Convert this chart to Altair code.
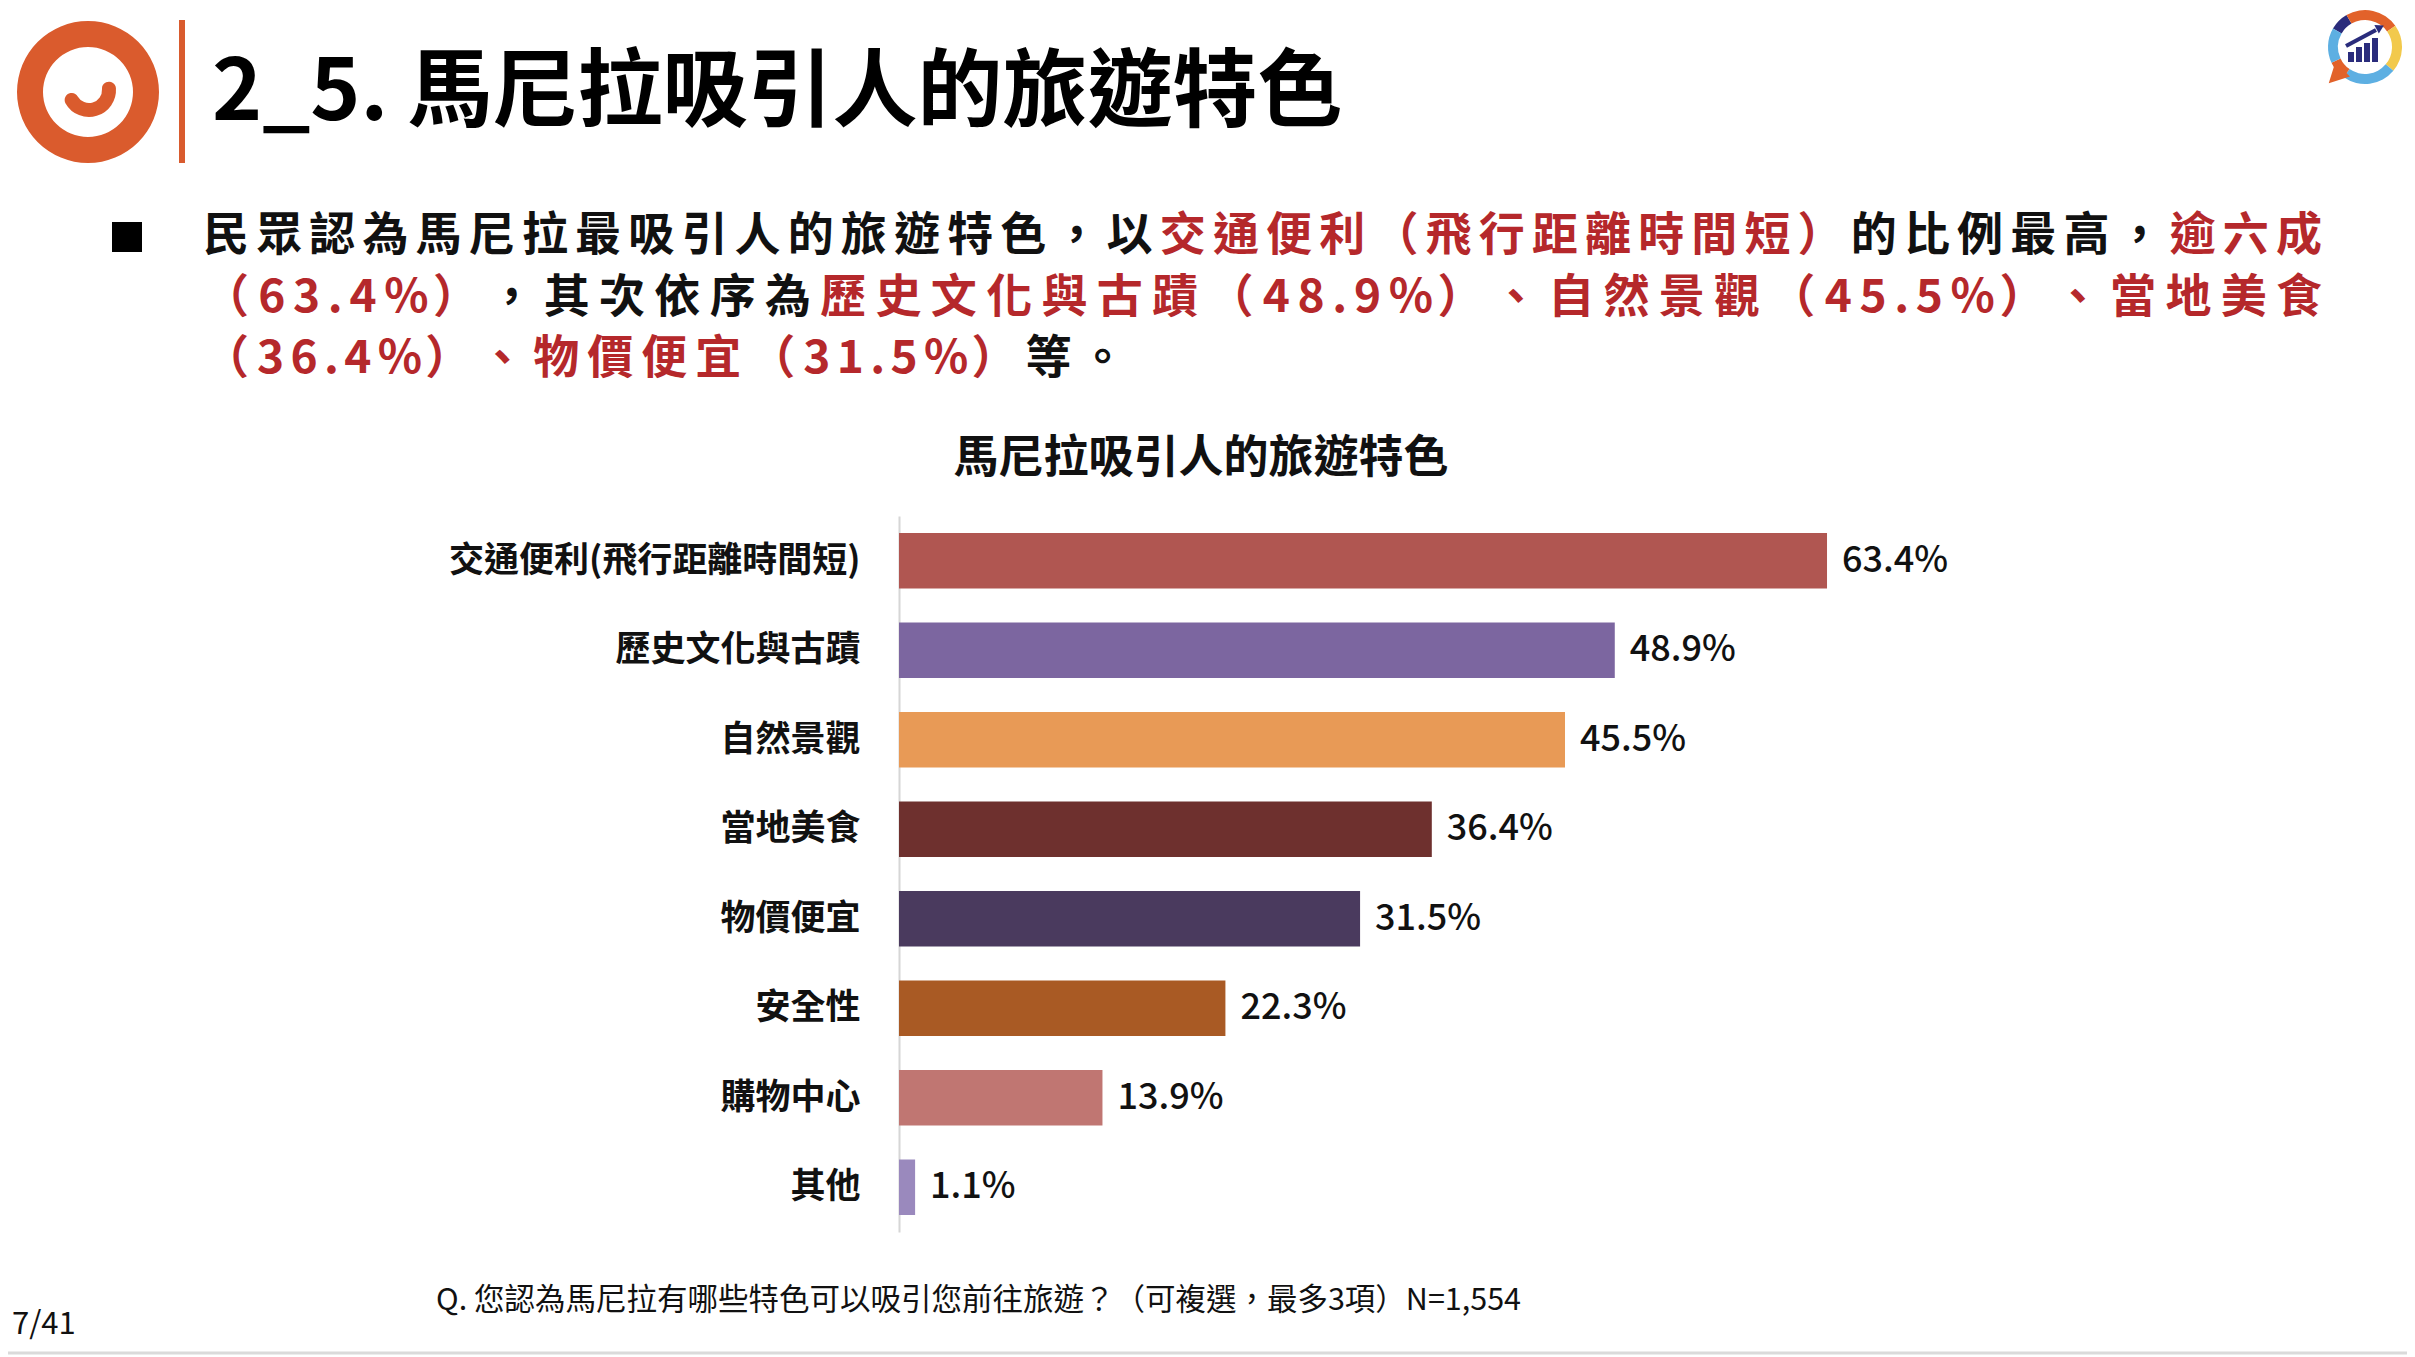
import altair as alt
import pandas as pd

# ---------------- data ----------------
categories = ["交通便利(飛行距離時間短)", "歷史文化與古蹟", "自然景觀", "當地美食",
              "物價便宜", "安全性", "購物中心", "其他"]
values = [63.4, 48.9, 45.5, 36.4, 31.5, 22.3, 13.9, 1.1]
bar_colors = ["#B05651", "#7C66A0", "#E89A56", "#6E302E",
              "#4A3A5E", "#A95A24", "#C07672", "#9A89BD"]

header_title = "2_5. 馬尼拉吸引人的旅遊特色"
chart_title = "馬尼拉吸引人的旅遊特色"
footnote = "Q. 您認為馬尼拉有哪些特色可以吸引您前往旅遊？（可複選，最多3項）N=1,554"
page_no = "7/41"

K = "#111111"
R = "#B5282B"
bullet_lines = [
    [("民眾認為馬尼拉最吸引人的旅遊特色，以", K), ("交通便利（飛行距離時間短）", R),
     ("的比例最高，", K), ("逾六成", R)],
    [("（63.4%）", R), ("，其次依序為", K), ("歷史文化與古蹟（48.9%）", R), ("、", R),
     ("自然景觀（45.5%）", R), ("、", R), ("當地美食", R)],
    [("（36.4%）、物價便宜（31.5%）", R), ("等。", K)],
]

FONT = "Noto Sans CJK TC"

# ---------------- layout (page pixel coordinates) ----------------
OX, OY = 899, 516          # plot-area origin on the page
PLOT_W = 1171
PLOT_H = 716
XMAX = 80
TOTAL_W = 2399
TOTAL_H = 1349


def px(x):
    return x - OX


def py(y):
    return y - OY


# ---------------- bar chart ----------------
df = pd.DataFrame({"category": categories, "value": values})

base = alt.Chart(df).transform_calculate(
    label="format(datum.value, '.1f') + '%'"
)

bars = base.mark_bar().encode(
    x=alt.X("value:Q", scale=alt.Scale(domain=[0, XMAX]), axis=None),
    y=alt.Y("category:N", sort=categories,
            scale=alt.Scale(paddingInner=0.38, paddingOuter=0.19),
            axis=alt.Axis(title=None, ticks=False, labelFont=FONT, labelFontSize=35,
                          labelFontWeight="bold", labelColor="#111111", labelPadding=39,
                          labelLimit=700, domainColor="#D6D6D6", domainWidth=2,
                          grid=False)),
    color=alt.Color("category:N", scale=alt.Scale(domain=categories, range=bar_colors),
                    legend=None),
)

value_labels = base.mark_text(align="left", baseline="middle", dx=15, font=FONT,
                              fontSize=36, fontWeight=500, color="#111111").encode(
    x=alt.X("value:Q", scale=alt.Scale(domain=[0, XMAX]), axis=None),
    y=alt.Y("category:N", sort=categories),
    text="label:N",
)

bar_layer = alt.layer(bars, value_labels)

# ---------------- bullet text (justified, char by char) ----------------
FS = 46
LINE_X0 = 203
LINE_X1 = 2322
LINE_Y = [236, 298, 359]


def cw(c):
    if c in "0123456789":
        return 0.553 * FS
    if c == ".":
        return 0.27 * FS
    if c == "%":
        return 0.86 * FS
    return 1.0 * FS


rows = []
for li, segs in enumerate(bullet_lines):
    chars = [(c, col) for s, col in segs for c in s]
    natural = sum(cw(c) for c, _ in chars)
    if li < len(bullet_lines) - 1:
        gap = (LINE_X1 - LINE_X0 - natural) / (len(chars) - 1)
    else:
        gap = 8.0
    x = LINE_X0
    for c, col in chars:
        rows.append({"ch": c, "px": px(x), "py": py(LINE_Y[li]), "col": col})
        x += cw(c) + gap
chars_df = pd.DataFrame(rows)

chars_layer = alt.Chart(chars_df).mark_text(
    align="left", baseline="middle", font=FONT, fontSize=FS, fontWeight="bold"
).encode(
    x=alt.X("px:Q", scale=None, axis=None),
    y=alt.Y("py:Q", scale=None, axis=None),
    text="ch:N",
    color=alt.Color("col:N", scale=None),
)

bullet_sq = alt.Chart(pd.DataFrame({"a": [0]})).mark_square(
    size=900, color="#000000", opacity=1, filled=True
).encode(x=alt.value(px(127)), y=alt.value(py(237)))

# ---------------- header ----------------
title_text = alt.Chart(pd.DataFrame({"t": [header_title]})).mark_text(
    align="left", baseline="middle", font=FONT, fontSize=85, fontWeight="bold",
    color="#000000"
).encode(x=alt.value(px(212)), y=alt.value(py(94)), text="t:N")

header_rule = alt.Chart(pd.DataFrame({"a": [0]})).mark_rule(
    color="#D95B2E", strokeWidth=6
).encode(x=alt.value(px(182)), y=alt.value(py(20)), y2=alt.value(py(163)))

ORANGE = "#DA5B2D"
ring_df = pd.DataFrame({"t0": [0.0], "t1": [6.2832], "ro": [71], "ri": [45], "c": [ORANGE]})
logo_ring = alt.Chart(ring_df).mark_arc().encode(
    x=alt.value(px(88)), y=alt.value(py(92)),
    theta=alt.Theta("t0:Q", scale=None, stack=None), theta2="t1:Q",
    radius=alt.Radius("ro:Q", scale=None), radius2="ri:Q",
    color=alt.Color("c:N", scale=None),
)
smile_df = pd.DataFrame({"t0": [1.15], "t1": [4.55], "ro": [27], "ri": [13], "c": [ORANGE]})
logo_smile = alt.Chart(smile_df).mark_arc(cornerRadius=7).encode(
    x=alt.value(px(89)), y=alt.value(py(90)),
    theta=alt.Theta("t0:Q", scale=None, stack=None), theta2="t1:Q",
    radius=alt.Radius("ro:Q", scale=None), radius2="ri:Q",
    color=alt.Color("c:N", scale=None),
)

# top-right logo
NAVY = "#2A2C7C"
deg = 3.14159265 / 180
seg_df = pd.DataFrame({
    "t0": [300 * deg, 330 * deg, 55 * deg, 130 * deg, 215 * deg, 245 * deg],
    "t1": [330 * deg, 415 * deg, 130 * deg, 215 * deg, 245 * deg, 300 * deg],
    "ro": [37] * 6, "ri": [27] * 6,
    "c": [NAVY, "#E2622A", "#F2C94C", "#5DAFE2", "#E2622A", "#5DAFE2"],
})
tr_ring = alt.Chart(seg_df).mark_arc().encode(
    x=alt.value(px(2365)), y=alt.value(py(47)),
    theta=alt.Theta("t0:Q", scale=None, stack=None), theta2="t1:Q",
    radius=alt.Radius("ro:Q", scale=None), radius2="ri:Q",
    color=alt.Color("c:N", scale=None),
)
tr_tail = alt.Chart(pd.DataFrame({"a": [0]})).mark_point(
    shape="M -1 1 L -0.5 -0.6 L 0.6 0.5 Z", filled=True, size=700, color="#E2622A",
    opacity=1
).encode(x=alt.value(px(2342)), y=alt.value(py(70)))
icon_df = pd.DataFrame({
    "x0": [px(2348), px(2356), px(2364), px(2372)],
    "x1": [px(2354), px(2362), px(2370), px(2378)],
    "y0": [py(52), py(47), py(43), py(38)],
    "y1": [py(62), py(62), py(62), py(62)],
})
tr_icon = alt.Chart(icon_df).mark_rect(color=NAVY).encode(
    x=alt.X("x0:Q", scale=None, axis=None), x2="x1:Q",
    y=alt.Y("y0:Q", scale=None, axis=None), y2="y1:Q",
)
tr_arrow = alt.Chart(pd.DataFrame({"a": [0]})).mark_rule(
    color=NAVY, strokeWidth=4
).encode(x=alt.value(px(2346)), x2=alt.value(px(2376)),
         y=alt.value(py(46)), y2=alt.value(py(30)))
tr_head = alt.Chart(pd.DataFrame({"a": [0]})).mark_point(
    shape="triangle", filled=True, size=90, color=NAVY, opacity=1, angle=62
).encode(x=alt.value(px(2379)), y=alt.value(py(28)))

# ---------------- chart title / footnote ----------------
ctitle = alt.Chart(pd.DataFrame({"t": [chart_title]})).mark_text(
    align="center", baseline="middle", font=FONT, fontSize=45, fontWeight="bold",
    color="#111111"
).encode(x=alt.value(px(1201)), y=alt.value(py(459)), text="t:N")

foot = alt.Chart(pd.DataFrame({"t": [footnote]})).mark_text(
    align="left", baseline="middle", font=FONT, fontSize=30.5, color="#111111"
).encode(x=alt.value(px(436)), y=alt.value(py(1301)), text="t:N")

pageno = alt.Chart(pd.DataFrame({"t": [page_no]})).mark_text(
    align="left", baseline="middle", font=FONT, fontSize=31, color="#111111"
).encode(x=alt.value(px(12)), y=alt.value(py(1325)), text="t:N")

bottom_rule = alt.Chart(pd.DataFrame({"a": [0]})).mark_rule(
    color="#DADADA", strokeWidth=3
).encode(x=alt.value(px(0)), x2=alt.value(px(2415)), y=alt.value(py(1353)))

chart = alt.layer(
    bar_layer, chars_layer, bullet_sq, title_text, header_rule, logo_ring, logo_smile,
    tr_ring, tr_tail, tr_icon, tr_arrow, tr_head, ctitle, foot, pageno, bottom_rule
).resolve_scale(
    x="independent", y="independent", color="independent"
).properties(
    width=PLOT_W, height=PLOT_H,
    autosize=alt.AutoSizeParams(type="none"),
    padding={"left": OX - 8, "top": OY - 8,
             "right": TOTAL_W - (OX - 8) - PLOT_W,
             "bottom": TOTAL_H - (OY - 8) - PLOT_H},
    background="#FFFFFF",
).configure_view(stroke=None)

chart.save("out.html", embed_options={"renderer": "svg", "actions": False})
